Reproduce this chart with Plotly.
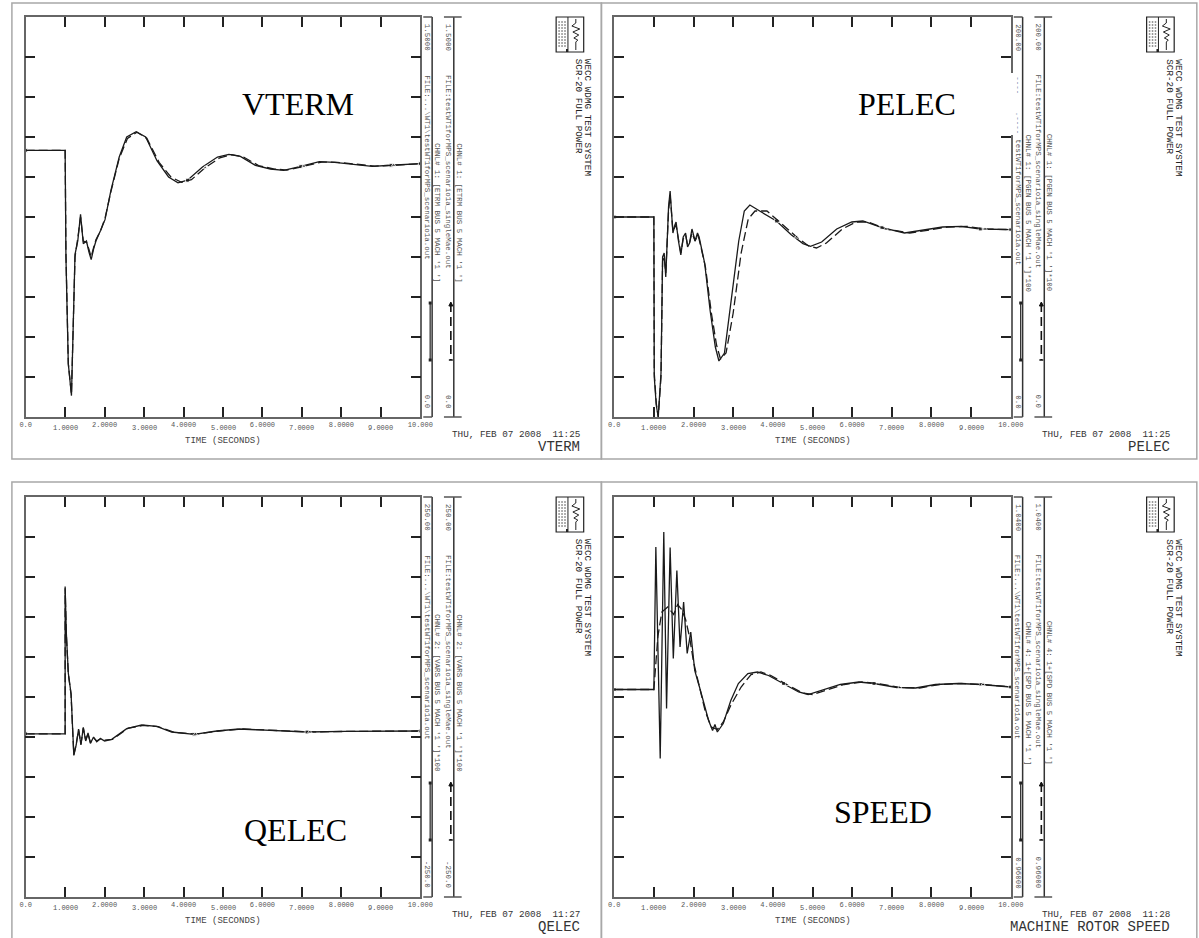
import plotly.graph_objects as go

W, H = 1199, 938

# ---------------- data ----------------
time_ticks = [0, 1, 2, 3, 4, 5, 6, 7, 8, 9, 10]
time_tick_labels = ["0.0", "1.0000", "2.0000", "3.0000", "4.0000", "5.0000",
                    "6.0000", "7.0000", "8.0000", "9.0000", "10.000"]

vterm_t_solid = [0, 1.0, 1.02, 1.08, 1.16, 1.21, 1.25, 1.32, 1.39, 1.46, 1.54, 1.60, 1.66, 1.72, 1.78,
                 1.9, 2.01, 2.16, 2.37, 2.56, 2.8, 3.04, 3.33, 3.62, 3.86, 4.1, 4.48, 4.86, 5.15, 5.44,
                 5.82, 6.2, 6.54, 6.97, 7.44, 7.83, 8.3, 8.78, 9.26, 10.0]
vterm_v_solid = [1.0, 1.0, 0.6, 0.2, 0.08, 0.35, 0.61, 0.66, 0.76, 0.65, 0.66, 0.62, 0.59, 0.63, 0.66,
                 0.70, 0.74, 0.85, 0.975, 1.05, 1.07, 1.05, 0.96, 0.90, 0.878, 0.888, 0.9375, 0.975, 0.985, 0.9775,
                 0.944, 0.93, 0.925, 0.94, 0.9575, 0.955, 0.9475, 0.94, 0.944, 0.95]
vterm_t_dash = [0, 1.0, 1.02, 1.08, 1.16, 1.21, 1.25, 1.32, 1.39, 1.46, 1.54, 1.60, 1.66, 1.72, 1.78,
                1.9, 2.01, 2.16, 2.37, 2.58, 2.82, 3.07, 3.38, 3.68, 3.95, 4.2, 4.55, 4.92, 5.22, 5.52,
                5.9, 6.28, 6.62, 7.05, 7.5, 7.9, 8.38, 8.85, 9.32, 10.0]
vterm_v_dash = [1.0, 1.0, 0.62, 0.2, 0.085, 0.36, 0.60, 0.67, 0.75, 0.66, 0.655, 0.63, 0.60, 0.635, 0.665,
                0.70, 0.745, 0.845, 0.97, 1.045, 1.068, 1.045, 0.955, 0.90, 0.88, 0.89, 0.935, 0.972, 0.984, 0.975,
                0.943, 0.93, 0.926, 0.94, 0.956, 0.955, 0.947, 0.941, 0.944, 0.95]

pelec_t_solid = [0, 1.0, 1.01, 1.06, 1.11, 1.18, 1.22, 1.26, 1.30, 1.37, 1.41, 1.48, 1.53, 1.56, 1.62,
                 1.68, 1.74, 1.80, 1.85, 1.90, 1.96, 2.04, 2.10, 2.14, 2.28, 2.42, 2.55, 2.64, 2.78, 2.95,
                 3.14, 3.28, 3.42, 3.71, 4.09, 4.47, 4.76, 4.95, 5.23, 5.61, 5.99, 6.27, 6.75, 7.32, 7.8,
                 8.28, 8.75, 9.23, 10.0]
pelec_v_solid = [100, 100, 20, 6, 0, 22, 80, 82, 70, 105, 113, 92, 96, 97.5, 88,
                 81, 90, 92, 85, 87, 94, 88, 92, 90, 77, 53, 35, 28, 32, 58,
                 88, 103, 106, 102.5, 98, 91, 86.7, 85.3, 87.5, 94, 97.5, 98, 94.7, 92, 93.5,
                 95, 95.3, 94, 93.7]
pelec_t_dash = [0, 1.0, 1.01, 1.06, 1.11, 1.18, 1.22, 1.26, 1.30, 1.37, 1.41, 1.48, 1.53, 1.56, 1.62,
                1.68, 1.74, 1.80, 1.85, 1.90, 1.96, 2.04, 2.10, 2.14, 2.3, 2.45, 2.58, 2.68, 2.82, 3.0,
                3.2, 3.38, 3.55, 3.85, 4.2, 4.6, 4.9, 5.1, 5.35, 5.75, 6.1, 6.4, 6.85, 7.45, 7.95,
                8.4, 8.9, 9.35, 10.0]
pelec_v_dash = [100, 100, 22, 7, 0, 20, 78, 80, 72, 103, 111, 93, 95, 96, 89,
                82, 89, 91, 86, 87, 92, 88, 91, 89, 75, 52, 36, 29, 32, 52,
                82, 99, 103, 103, 97, 90, 85.5, 84.5, 87, 94, 97.5, 97.5, 94, 92, 93.5,
                95, 95.3, 94, 93.7]

qelec_t_solid = [0, 1.0, 1.0, 1.03, 1.08, 1.15, 1.19, 1.22, 1.28, 1.34, 1.40, 1.46, 1.52, 1.58, 1.64,
                 1.72, 1.80, 1.90, 2.0, 2.18, 2.56, 2.94, 3.32, 3.7, 4.27, 4.84, 5.41, 6.18, 7.13, 8.1, 10.0]
qelec_v_solid = [-46, -46, 138, 80, 30, 4, -40, -73, -60, -40, -60, -38, -55, -45, -58,
                 -50, -56, -52, -55, -53, -39.6, -35, -36.7, -43.75, -46.7, -42.5, -40, -41.7, -43.75, -43, -42.5]
qelec_t_dash = [0, 1.0, 1.0, 1.03, 1.08, 1.15, 1.19, 1.22, 1.28, 1.34, 1.40, 1.46, 1.52, 1.58, 1.64,
                1.72, 1.80, 1.90, 2.0, 2.2, 2.6, 2.98, 3.36, 3.75, 4.3, 4.9, 5.5, 6.25, 7.2, 8.15, 10.0]
qelec_v_dash = [-46, -46, 136, 78, 29, 3, -41, -72, -59, -41, -59, -39, -54, -46, -57,
                -51, -55, -52, -54, -53, -39, -35.5, -37, -44, -46.5, -42.5, -40, -41.7, -43.7, -43, -42.5]

speed_t_solid = [0, 1.0, 1.05, 1.16, 1.25, 1.32, 1.41, 1.49, 1.58, 1.66, 1.75, 1.84, 1.93, 2.03, 2.15,
                 2.24, 2.38, 2.48, 2.54, 2.60, 2.75, 2.94, 3.13, 3.37, 3.61, 3.89, 4.27, 4.65, 4.89, 5.22,
                 5.70, 6.17, 6.55, 7.13, 7.6, 8.1, 8.67, 9.25, 10.0]
speed_v_solid = [1.0015, 1.0015, 1.0300, 0.9877, 1.0330, 0.9977, 1.0299, 1.0077, 1.0253, 1.0100, 1.0190,
                 1.0087, 1.0130, 1.0053, 1.0020, 0.9993, 0.9953, 0.9933, 0.9945, 0.9930, 0.9947, 0.9993,
                 1.0027, 1.0047, 1.0050, 1.0043, 1.0027, 1.0010, 1.0005, 1.0013, 1.0025, 1.0030, 1.0027,
                 1.0019, 1.0018, 1.0025, 1.0027, 1.0025, 1.0020]
speed_t_dash = [0, 1.0, 1.1, 1.2, 1.35, 1.5, 1.6, 1.7, 1.8, 1.9, 2.0, 2.15, 2.3, 2.45, 2.6, 2.75, 2.95,
                3.2, 3.45, 3.7, 3.95, 4.35, 4.75, 5.0, 5.3, 5.8, 6.25, 6.65, 7.2, 7.7, 8.2, 8.75, 9.3, 10.0]
speed_v_dash = [1.0015, 1.0015, 1.012, 1.017, 1.018, 1.0165, 1.0185, 1.0175, 1.0155, 1.012, 1.007, 1.002,
                0.997, 0.994, 0.9935, 0.995, 0.9985, 1.002, 1.0045, 1.005, 1.0043, 1.0025, 1.0008, 1.0005,
                1.0013, 1.0025, 1.003, 1.0027, 1.0019, 1.0018, 1.0025, 1.0027, 1.0025, 1.002]

panel_names = ["VTERM", "PELEC", "QELEC", "SPEED"]
panel_titles = ["VTERM", "PELEC", "QELEC", "MACHINE ROTOR SPEED"]
panel_dates = ["THU, FEB 07 2008  11:25", "THU, FEB 07 2008  11:25",
               "THU, FEB 07 2008  11:27", "THU, FEB 07 2008  11:28"]
y_min = [0.0, 0.0, -250.0, 0.96]
y_max = [1.5, 200.0, 250.0, 1.04]
y_top_labels = ["1.5000", "200.00", "250.00", "1.0400"]
y_bot_labels = ["0.0", "0.0", "-250.0", "0.96000"]
chnl_labels = ["CHNL# 1: [ETRM BUS 5 MACH '1 ']",
               "CHNL# 1: [PGEN BUS 5 MACH '1 ']*100",
               "CHNL# 2: [VARS BUS 5 MACH '1 ']*100",
               "CHNL# 4: 1+[SPD BUS 5 MACH '1 ']"]
file1_label = "FILE:...\\WT1\\testWT1forMPS_scenario1a.out"
file2_label = "FILE:testWT1forMPS_scenario1a_singleMae.out"
case_title1 = "WECC WDMG TEST SYSTEM"
case_title2 = "SCR-20 FULL POWER"

series = [
    (vterm_t_solid, vterm_v_solid, vterm_t_dash, vterm_v_dash),
    (pelec_t_solid, pelec_v_solid, pelec_t_dash, pelec_v_dash),
    (qelec_t_solid, qelec_v_solid, qelec_t_dash, qelec_v_dash),
    (speed_t_solid, speed_v_solid, speed_t_dash, speed_v_dash),
]

# ---------------- layout geometry (pixels) ----------------
geom = [
    dict(L=20, R=421, T=17, B=417),
    dict(L=618, R=1021, T=17, B=417),
    dict(L=20, R=421, T=497, B=897),
    dict(L=618, R=1021, T=497, B=897),
]
frames = [(6, 3, 605, 459), (605, 3, 1210, 459), (6, 482, 605, 950), (605, 482, 1210, 950)]
big_label_pos = [(297, 104), (916, 104), (294, 830), (891, 812)]


def fx(px):
    return px / W


def fy(py):
    return 1 - py / H


MONO = "Liberation Mono"
GRAY = "#555"
fig = go.Figure()
shapes = []
annotations = []

sol_marks = [0, 4.1, 6.8, 9.3, 10]
dash_marks = [4.4, 7.1, 9.6]


def marker_sizes(ts, marks, size):
    idx = set()
    for m in marks:
        best = min(range(len(ts)), key=lambda i: abs(ts[i] - m))
        idx.add(best)
    return [size if i in idx else 0 for i in range(len(ts))]


for k in range(4):
    g = geom[k]
    L, R, T, B = g["L"], g["R"], g["T"], g["B"]
    sfx = "" if k == 0 else str(k + 1)
    xa, ya = "x" + sfx, "y" + sfx
    ts, vs, td, vd = series[k]
    fig.add_trace(go.Scatter(
        x=ts, y=vs, xaxis=xa, yaxis=ya, mode="lines+markers",
        line=dict(color="#1a1a1a", width=1.3),
        marker=dict(symbol="square", size=marker_sizes(ts, sol_marks, 4), color="#1a1a1a"),
        showlegend=False, hoverinfo="skip"))
    fig.add_trace(go.Scatter(
        x=td, y=vd, xaxis=xa, yaxis=ya, mode="lines+markers",
        line=dict(color="#1a1a1a", width=1.3, dash="9px,4px"),
        marker=dict(symbol="triangle-up", size=marker_sizes(td, dash_marks, 4), color="#1a1a1a"),
        showlegend=False, hoverinfo="skip"))

    # even labels as axis tick labels, odd ones staggered on a second row
    ticktext = [t if i % 2 == 0 else "" for i, t in enumerate(time_tick_labels)]
    fig.update_layout(**{
        "xaxis" + sfx: dict(
            domain=[fx(L), fx(R)], range=[0, 10], anchor=ya,
            tickvals=time_ticks, ticktext=ticktext, ticks="inside", ticklen=10,
            tickwidth=1.5, tickcolor="#222", showline=True, linecolor="#666", linewidth=1.5,
            mirror="ticks", showgrid=False, zeroline=False,
            tickfont=dict(family=MONO, size=7, color=GRAY)),
        "yaxis" + sfx: dict(
            domain=[fy(B), fy(T)], range=[y_min[k], y_max[k]], anchor=xa,
            tick0=y_min[k], dtick=(y_max[k] - y_min[k]) / 10, ticks="inside", ticklen=10,
            tickwidth=1.5, tickcolor="#222", showline=True, linecolor="#666", linewidth=1.5,
            mirror="ticks", showgrid=False, zeroline=False, showticklabels=False),
    })
    for i, t in enumerate(time_tick_labels):
        if i % 2 == 1:
            annotations.append(dict(text=t, x=time_ticks[i], y=fy(B + 11), xref=xa, yref="paper",
                                    xanchor="center", yanchor="middle", showarrow=False,
                                    font=dict(family=MONO, size=7, color=GRAY)))

    # frame around the panel image
    x0, y0, x1, y1 = frames[k]
    shapes.append(dict(type="rect", xref="paper", yref="paper", x0=fx(x0), x1=fx(x1),
                       y0=fy(y1), y1=fy(y0), line=dict(color="#a8a8a8", width=1.5), layer="below"))

    # two scale bars on the right
    for bx, c0, c1 in [(R + 12, R + 3, R + 12), (R + 34, R + 24, R + 42)]:
        shapes.append(dict(type="line", xref="paper", yref="paper", x0=fx(bx), x1=fx(bx),
                           y0=fy(T), y1=fy(B), line=dict(color="#333", width=1.5)))
        for yy in (T, B):
            shapes.append(dict(type="line", xref="paper", yref="paper", x0=fx(c0), x1=fx(c1),
                               y0=fy(yy), y1=fy(yy), line=dict(color="#555", width=1.5)))

    # legend line samples
    lx1, lx2 = R + 10, R + 31
    ly0, ly1 = T + 286, T + 343
    shapes.append(dict(type="line", xref="paper", yref="paper", x0=fx(lx1), x1=fx(lx1),
                       y0=fy(ly0), y1=fy(ly1), line=dict(color="#333", width=1.3)))
    for yy in (ly0, ly1):
        shapes.append(dict(type="rect", xref="paper", yref="paper", x0=fx(lx1 - 1.5), x1=fx(lx1 + 1.5),
                           y0=fy(yy + 1.5), y1=fy(yy - 1.5), fillcolor="#222", line=dict(width=0)))
    shapes.append(dict(type="line", xref="paper", yref="paper", x0=fx(lx2), x1=fx(lx2),
                       y0=fy(ly0), y1=fy(ly1), line=dict(color="#111", width=1.6, dash="9px,5px")))
    shapes.append(dict(type="path", xref="paper", yref="paper",
                       path=f"M{fx(lx2 - 2)},{fy(ly0 + 3)} L{fx(lx2)},{fy(ly0 - 1)} L{fx(lx2 + 2)},{fy(ly0 + 3)} Z",
                       fillcolor="#111", line=dict(color="#111", width=1)))
    shapes.append(dict(type="line", xref="paper", yref="paper", x0=fx(lx2 - 2), x1=fx(lx2 + 2),
                       y0=fy(ly1), y1=fy(ly1), line=dict(color="#111", width=1.5)))

    # icon
    ix0, ix1, iy0, iy1 = R + 138, R + 166, T, T + 35
    shapes.append(dict(type="rect", xref="paper", yref="paper", x0=fx(ix0), x1=fx(ix1),
                       y0=fy(iy1), y1=fy(iy0), line=dict(color="#222", width=1.2)))
    shapes.append(dict(type="line", xref="paper", yref="paper", x0=fx(ix0 + 12), x1=fx(ix0 + 12),
                       y0=fy(iy1), y1=fy(iy0), line=dict(color="#222", width=1)))
    for dx in (3, 6, 9):
        shapes.append(dict(type="line", xref="paper", yref="paper", x0=fx(ix0 + dx), x1=fx(ix0 + dx),
                           y0=fy(iy0 + 30), y1=fy(iy0 + 4), line=dict(color="#999", width=1.5, dash="2px,1px")))
    shapes.append(dict(type="rect", xref="paper", yref="paper", x0=fx(ix0 + 10), x1=fx(ix0 + 12),
                       y0=fy(iy0 + 35), y1=fy(iy0 + 32), fillcolor="#222", line=dict(width=0)))
    sq = [(20, 2), (20, 6), (16, 9), (24, 12), (17, 15), (23, 18), (18, 21), (22, 23), (20, 25), (20, 33)]
    path = "M" + " L".join(f"{fx(ix0 + a)},{fy(iy0 + b)}" for a, b in sq)
    shapes.append(dict(type="path", xref="paper", yref="paper", path=path,
                       line=dict(color="#222", width=1)))

    # rotated texts
    def rot(text, x, y, yanchor, size=7.5, color=GRAY):
        annotations.append(dict(text=text, x=fx(x), y=fy(y), xref="paper", yref="paper",
                                xanchor="center", yanchor=yanchor, textangle=90, showarrow=False,
                                font=dict(family=MONO, size=size, color=color)))

    rot(y_top_labels[k], R + 7, T + 5, "top")
    rot(y_bot_labels[k], R + 7, B - 6, "bottom")
    rot(y_top_labels[k], R + 28, T + 5, "top")
    rot(y_bot_labels[k], R + 28, B - 6, "bottom")
    if k == 1:
        rot("----", R + 7, T + 57, "top", color="#6a7fa8")
        rot(".----", R + 7, T + 93, "top", color="#6a7fa8")
        rot("testWT1forMPS_scenario1a.out", R + 7, T + 120, "top")
    else:
        rot(file1_label, R + 7, T + 56, "top")
    rot(file2_label, R + 28, T + 56, "top")
    rot(chnl_labels[k], R + 17, T + 196, "middle")
    rot(chnl_labels[k], R + 39, T + 196, "middle")
    rot(case_title1, R + 170, T + 40, "top", size=9.3, color="#222")
    rot(case_title2, R + 161, T + 40, "top", size=9.3, color="#222")

    # white-out artefact on the PELEC frame
    if k == 1:
        shapes.append(dict(type="rect", xref="paper", yref="paper", x0=fx(R - 11), x1=fx(R + 2.5),
                           y0=fy(T + 118), y1=fy(T + 56), fillcolor="white", line=dict(width=0),
                           layer="above"))

    # date / title / axis title / big label
    annotations.append(dict(text=panel_dates[k].replace(" ", "\u00a0"), x=fx(R + 164), y=fy(B + 17),
                            xref="paper", yref="paper", xanchor="right", yanchor="middle",
                            showarrow=False, font=dict(family=MONO, size=9.3, color="#333")))
    annotations.append(dict(text=panel_titles[k].replace(" ", "\u00a0"), x=fx(R + 164), y=fy(B + 30),
                            xref="paper", yref="paper", xanchor="right", yanchor="middle",
                            showarrow=False, font=dict(family=MONO, size=14, color="#333")))
    annotations.append(dict(text="TIME\u00a0(SECONDS)", x=fx((L + R) / 2), y=fy(B + 24),
                            xref="paper", yref="paper", xanchor="center", yanchor="middle",
                            showarrow=False, font=dict(family=MONO, size=9, color="#444")))
    bx, by = big_label_pos[k]
    annotations.append(dict(text=panel_names[k], x=fx(bx), y=fy(by), xref="paper", yref="paper",
                            xanchor="center", yanchor="middle", showarrow=False,
                            font=dict(family="Liberation Serif", size=32, color="#000")))

fig.update_layout(width=W, height=H, margin=dict(l=0, r=0, t=0, b=0),
                  paper_bgcolor="white", plot_bgcolor="white",
                  shapes=shapes, annotations=annotations, showlegend=False)
fig.write_html("out.html", config={"displayModeBar": False},
               post_script="document.body.style.margin='0px';document.body.style.overflow='hidden';")
